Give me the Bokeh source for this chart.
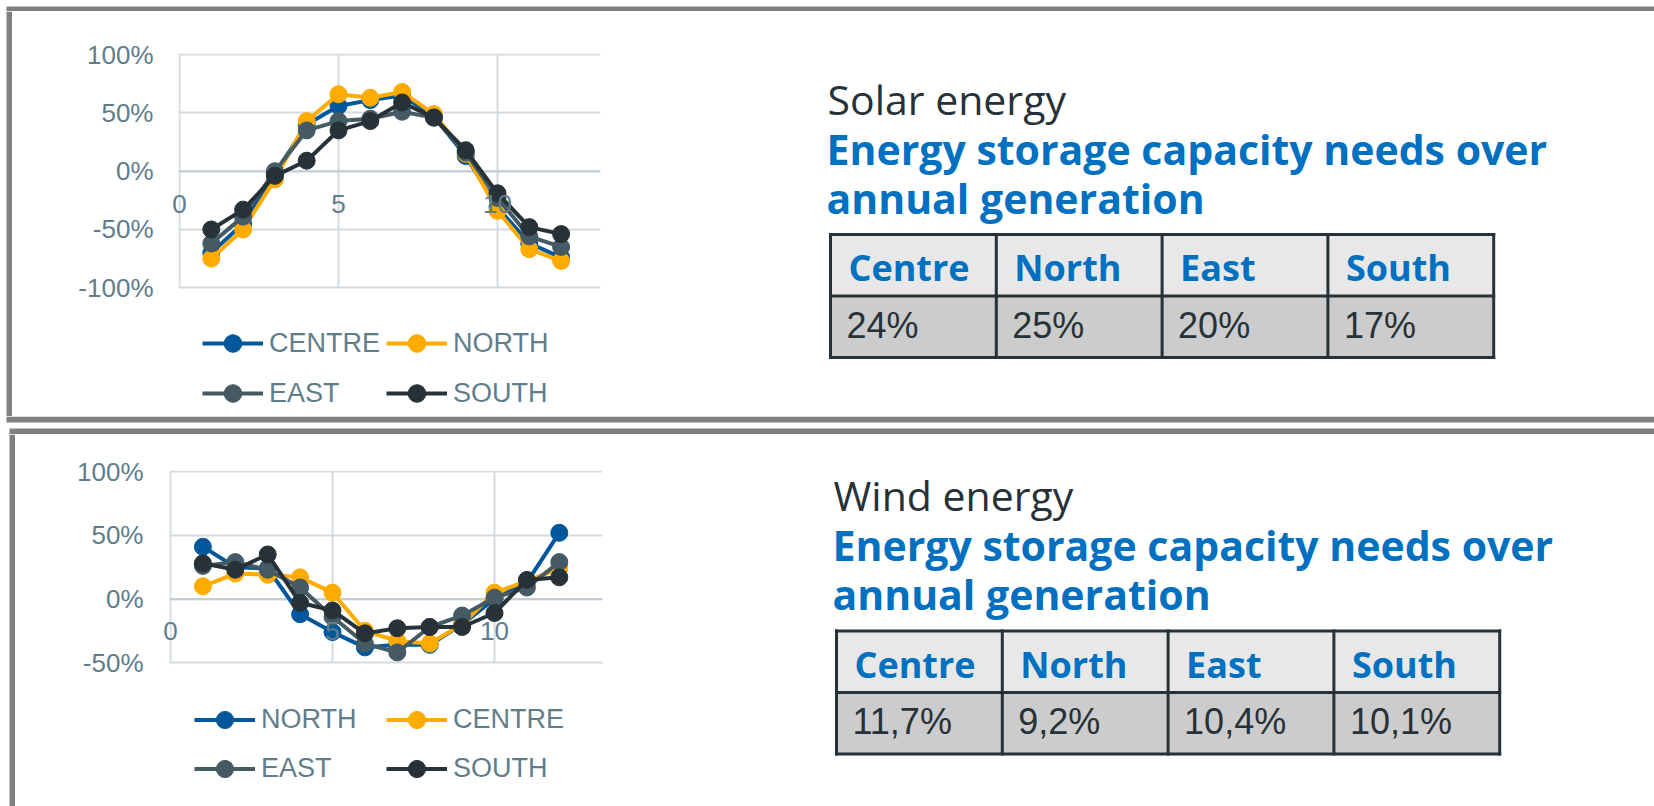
from bokeh.plotting import figure
from bokeh.models import Range1d, FixedTicker, PrintfTickFormatter, Legend, LegendItem, Span
from bokeh.layouts import column, row
from bokeh.core.properties import value
from bokeh.embed import file_html
from bokeh.resources import INLINE

# ---------------- data ----------------
months = list(range(1, 13))
x_ticks = [0, 5, 10]

solar_series = ["CENTRE", "NORTH", "EAST", "SOUTH"]
solar_centre = [-70, -45, -2, 40, 56, 61, 65, 47, 13, -31, -62, -74]
solar_north = [-75, -50, -7, 43, 66, 63, 68, 49, 15, -34, -67, -77]
solar_east = [-62, -39, 0, 35, 43, 45, 51, 46, 16, -23, -56, -65]
solar_south = [-50, -33, -4, 9, 35, 43, 59, 46, 18, -19, -48, -54]
solar_y_ticks = [-100, -50, 0, 50, 100]

wind_series = ["NORTH", "CENTRE", "EAST", "SOUTH"]
wind_north = [41, 25, 24, -12, -26, -38, -36, -36, -20, 0, 13, 52]
wind_centre = [10, 20, 19, 17, 5, -25, -33, -35, -20, 5, 14, 24]
wind_east = [26, 29, 23, 9, -14, -35, -42, -22, -13, 1, 9, 29]
wind_south = [28, 23, 35, -3, -9, -27, -23, -22, -22, -11, 15, 17]
wind_y_ticks = [-50, 0, 50, 100]

table_regions = ["Centre", "North", "East", "South"]
solar_storage = [24, 25, 20, 17]
wind_storage = [11.7, 9.2, 10.4, 10.1]

solar_heading = "Solar energy"
wind_heading = "Wind energy"
subtitle_lines = ["Energy storage capacity needs over", "annual generation"]

# ---------------- styles ----------------
SERIES_COLORS = ["#01579B", "#FFAB00", "#455A64", "#263238"]
TICK_COLOR = "#607D8B"
GRID_COLOR = "#D3DBDF"
PANEL_GRAY = "#808080"
DARK = "#263238"
BLUE_TITLE = "#0070C0"
HEAD_FILL = "#E8E8E8"
VAL_FILL = "#CCCCCC"
BASE_SHIFT = 0.38  # empirical baseline correction (fraction of font size)


def bare_fig(x0, x1, y0, y1):
    p = figure(width=int(round(x1 - x0)), height=int(round(y1 - y0)),
               x_range=Range1d(x0, x1), y_range=Range1d(y1, y0),
               min_border=0, toolbar_location=None, output_backend="svg",
               title=None, x_axis_location=None, y_axis_location=None,
               outline_line_color=None, background_fill_color="white",
               border_fill_color="white", frame_align=False)
    p.grid.visible = False
    return p


def strip(x0, x1, y0, y1, bands):
    p = bare_fig(x0, x1, y0, y1)
    p.quad(left=[b[0] for b in bands], right=[b[1] for b in bands],
           top=[b[2] for b in bands], bottom=[b[3] for b in bands],
           fill_color=PANEL_GRAY, line_color=None)
    return p


def make_chart(fx, fy, width, height, fl, fr, ft, fb, x0px, xppu, y0px, yppu,
               yticks, names, series, xstand, ystand, leg_loc, leg_spacing,
               leg_lw, leg_gh):
    xr = Range1d((fl - x0px) / xppu, (fr - x0px) / xppu)
    yr = Range1d((y0px - fb) / yppu, (y0px - ft) / yppu)
    p = figure(width=width, height=height, x_range=xr, y_range=yr,
               min_border_left=fl - fx, min_border_right=fx + width - fr,
               min_border_top=ft - fy, min_border_bottom=fy + height - fb,
               toolbar_location=None, output_backend="svg", title=None,
               outline_line_color=None, frame_align=False)
    xt = FixedTicker(ticks=x_ticks)
    yt = FixedTicker(ticks=yticks)
    xa = p.xaxis[0]
    ya = p.yaxis[0]
    xa.ticker = xt
    ya.ticker = yt
    ya.formatter = PrintfTickFormatter(format="%d%%")
    for ax, st in ((xa, xstand), (ya, ystand)):
        ax.axis_line_color = None
        ax.major_tick_line_color = None
        ax.minor_tick_line_color = None
        ax.major_tick_out = 0
        ax.major_tick_in = 0
        ax.major_label_standoff = st
        ax.major_label_text_font = "Liberation Sans"
        ax.major_label_text_font_size = "26px"
        ax.major_label_text_color = TICK_COLOR
    ymin, ymax = min(yticks), max(yticks)
    ygrid = p.ygrid[0]
    ygrid.ticker = yt
    ygrid.grid_line_color = GRID_COLOR
    ygrid.grid_line_width = 2
    xgrid = p.xgrid[0]
    xgrid.ticker = xt
    if "cross_bounds" in xgrid.properties():
        xgrid.cross_bounds = (ymin, ymax)
        xgrid.grid_line_color = GRID_COLOR
        xgrid.grid_line_width = 2
    else:
        xgrid.visible = False
        p.segment(x0=x_ticks, y0=[ymin] * len(x_ticks), x1=x_ticks,
                  y1=[ymax] * len(x_ticks), line_color=GRID_COLOR, line_width=2,
                  level="underlay")
    p.add_layout(Span(location=0, dimension="width", line_color="#C3CDD3",
                      line_width=2, level="underlay"))
    items = []
    for name, vals, col in zip(names, series, SERIES_COLORS):
        lr = p.line(months, vals, line_color=col, line_width=4, line_join="round")
        sr = p.scatter(months, vals, size=17, fill_color=col, line_color=col)
        items.append(LegendItem(label=name, renderers=[lr, sr]))
    leg = Legend(items=items, location=leg_loc, orientation="horizontal", ncols=2,
                 border_line_color=None, background_fill_alpha=0, padding=0, margin=0,
                 glyph_width=61, glyph_height=leg_gh, label_height=leg_gh,
                 label_standoff=6, spacing=leg_spacing, label_width=leg_lw,
                 label_text_font="Liberation Sans", label_text_font_size="27px",
                 label_text_color=TICK_COLOR)
    p.add_layout(leg)
    return p


def make_text(x0, x1, y0, y1, heading, tx, ty, tab_x, tab_y, values, fmt):
    p = bare_fig(x0, x1, y0, y1)
    p.text(x=[tx], y=[ty - BASE_SHIFT * 41], text=[heading], text_font=value("Open Sans"),
           text_font_size="41px", text_color=DARK, text_align="left",
           text_baseline="alphabetic")
    p.text(x=[tx - 1, tx - 1],
           y=[ty + 50 - BASE_SHIFT * 41, ty + 98.7 - BASE_SHIFT * 41],
           text=subtitle_lines, text_font=value("Open Sans"), text_font_style="bold",
           text_font_size="41px", text_color=BLUE_TITLE, text_align="left",
           text_baseline="alphabetic")
    cw = 165.8
    rh = [tab_y, tab_y + 61.5, tab_y + 123]
    n = len(table_regions)
    lefts = [tab_x + i * cw for i in range(n)]
    rights = [tab_x + (i + 1) * cw for i in range(n)]
    p.quad(left=lefts, right=rights, top=[rh[0]] * n, bottom=[rh[1]] * n,
           fill_color=HEAD_FILL, line_color=None)
    p.quad(left=lefts, right=rights, top=[rh[1]] * n, bottom=[rh[2]] * n,
           fill_color=VAL_FILL, line_color=None)
    xs = [[tab_x, tab_x + n * cw] for _ in rh] + [[tab_x + i * cw] * 2 for i in range(n + 1)]
    ys = [[r, r] for r in rh] + [[rh[0], rh[2]] for _ in range(n + 1)]
    p.multi_line(xs=xs, ys=ys, line_color=DARK, line_width=3, line_cap="square")
    p.text(x=[l + 18 for l in lefts], y=[rh[0] + 46.7 - BASE_SHIFT * 36] * n,
           text=table_regions, text_font=value("Open Sans"), text_font_style="bold",
           text_font_size="36px", text_color=BLUE_TITLE, text_align="left",
           text_baseline="alphabetic")
    p.text(x=[l + 16 for l in lefts], y=[rh[1] + 43 - BASE_SHIFT * 36] * n,
           text=[fmt(v) for v in values], text_font=value("Liberation Sans"),
           text_font_size="36px", text_color=DARK, text_align="left",
           text_baseline="alphabetic")
    return p


# page coordinates (layout origin at page 0,0)
W = 1654
top_strip = strip(0, W, 0, 11, [(6, W, 5, 11)])
left1 = strip(0, 12, 11, 416, [(6, 12, 11, 416)])
chart1 = make_chart(12, 11, 688, 405, 178, 600, 53, 416, 179, 31.8, 170.7, 1.1652,
                    solar_y_ticks, solar_series,
                    [solar_centre, solar_north, solar_east, solar_south],
                    -222, 25, (24, 1), 6, 111, 44)
text1 = make_text(700, W, 11, 416, solar_heading, 827, 114, 830, 234,
                  solar_storage, lambda v: f"{v}%")
mid_strip = strip(0, W, 416, 434, [(6, W, 416, 422), (9, W, 428, 434)])
left2 = strip(0, 15, 434, 806, [(9, 15, 434, 806)])
chart2 = make_chart(15, 434, 685, 372, 169, 602, 470, 806, 170, 32.4, 598.5, 1.273,
                    wind_y_ticks, wind_series,
                    [wind_north, wind_centre, wind_east, wind_south],
                    -185, 26, (25, 16), 6, 119, 43)
text2 = make_text(700, W, 434, 806, wind_heading, 833, 510, 836, 630.5,
                  wind_storage, lambda v: f"{v}%".replace(".", ","))

layout = column(top_strip, row(left1, chart1, text1), mid_strip,
                row(left2, chart2, text2))

open("out.html", "w").write(file_html(layout, INLINE))
